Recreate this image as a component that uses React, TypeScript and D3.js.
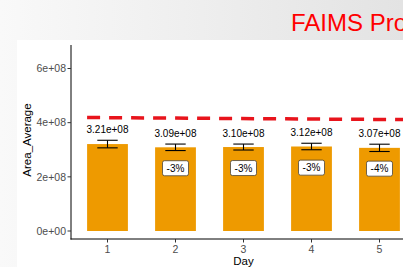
import React, { useEffect, useRef } from 'react';
import * as d3 from 'd3';

// chart data
const days = [1, 2, 3, 4, 5];
const areaAverage = [3.21e8, 3.09e8, 3.10e8, 3.12e8, 3.07e8];
const areaError = [1.4e7, 1.2e7, 1.1e7, 1.2e7, 1.35e7];
const pctChange = [null, '-3%', '-3%', '-3%', '-4%'];
const yTicks = [0, 2e8, 4e8, 6e8];
const yTickLabels = ['0e+00', '2e+08', '4e+08', '6e+08'];
const refLineDays = [0.7, 5.5];
const refLineValues = [4.19e8, 4.11e8];

const W = 403;
const H = 267;

export default function App() {
  const svgRef = useRef<SVGSVGElement>(null);

  useEffect(() => {
    if (!svgRef.current) return;
    const svg = d3.select(svgRef.current);
    svg.selectAll('*').remove();

    const font = '"Liberation Sans", Arial, sans-serif';

    // slide background
    const grad = svg.append('defs').append('linearGradient')
      .attr('id', 'bg').attr('x1', '0%').attr('x2', '100%').attr('y1', '0%').attr('y2', '0%');
    grad.append('stop').attr('offset', '0%').attr('stop-color', '#f9f9f9');
    grad.append('stop').attr('offset', '100%').attr('stop-color', '#e3e3e3');
    svg.append('rect').attr('width', W).attr('height', H).attr('fill', 'url(#bg)');

    svg.append('text')
      .attr('x', 291).attr('y', 31)
      .attr('fill', '#ff0000')
      .style('font', `24px ${font}`)
      .text('FAIMS Pro');

    // plot panel
    svg.append('rect').attr('x', 17).attr('y', 40).attr('width', W - 17).attr('height', H - 40).attr('fill', '#fff');

    const x = d3.scaleLinear().domain([1, 5]).range([107.5, 379.5]);
    const y = d3.scaleLinear().domain([0, 6e8]).range([231, 68.5]);
    const step = x(2) - x(1);
    const barW = step * 0.6;
    const capW = step * 0.3;

    const data = days.map((d, i) => ({ day: d, mean: areaAverage[i], err: areaError[i], pct: pctChange[i] }));

    // bars
    svg.append('g').selectAll('rect')
      .data(data).join('rect')
      .attr('x', d => x(d.day) - barW / 2)
      .attr('y', d => y(d.mean))
      .attr('width', barW)
      .attr('height', d => y(0) - y(d.mean))
      .attr('fill', '#EE9A00');

    // error bars
    const eb = svg.append('g').attr('stroke', '#000').attr('stroke-width', 1.1);
    data.forEach(d => {
      const cx = x(d.day);
      eb.append('line').attr('x1', cx).attr('x2', cx).attr('y1', y(d.mean + d.err)).attr('y2', y(d.mean - d.err));
      eb.append('line').attr('x1', cx - capW / 2).attr('x2', cx + capW / 2).attr('y1', y(d.mean + d.err)).attr('y2', y(d.mean + d.err));
      eb.append('line').attr('x1', cx - capW / 2).attr('x2', cx + capW / 2).attr('y1', y(d.mean - d.err)).attr('y2', y(d.mean - d.err));
    });

    // reference line
    const line = d3.line<number>().x((d, i) => x(refLineDays[i])).y(d => y(d));
    svg.append('path')
      .attr('d', line(refLineValues))
      .attr('fill', 'none')
      .attr('stroke', '#E8141C')
      .attr('stroke-width', 3.5)
      .attr('stroke-dasharray', '13 9');

    // value labels
    svg.append('g').selectAll('text')
      .data(data).join('text')
      .attr('x', d => x(d.day))
      .attr('y', d => y(d.mean + d.err) - 7.5)
      .attr('text-anchor', 'middle')
      .attr('fill', '#000')
      .style('font', `10px ${font}`)
      .text(d => d3.format('.2e')(d.mean).replace(/e\+(\d)$/, 'e+0$1'));

    // percent labels
    const pl = svg.append('g').selectAll('g')
      .data(data.filter(d => d.pct)).join('g')
      .attr('transform', d => `translate(${x(d.day)},${y(d.mean * 0.75)})`);
    pl.append('rect')
      .attr('x', -13).attr('y', -7.5).attr('width', 26).attr('height', 15).attr('rx', 2)
      .attr('fill', '#fff').attr('stroke', '#333').attr('stroke-width', 0.7);
    pl.append('text')
      .attr('text-anchor', 'middle').attr('dy', '0.35em')
      .attr('fill', '#000')
      .style('font', `10px ${font}`)
      .text(d => d.pct as string);

    // axes
    const axisCol = '#000';
    svg.append('line').attr('x1', 71).attr('x2', 71).attr('y1', 45).attr('y2', 239.5).attr('stroke', axisCol).attr('stroke-width', 1);
    svg.append('line').attr('x1', 70.5).attr('x2', 416).attr('y1', 239).attr('y2', 239).attr('stroke', axisCol).attr('stroke-width', 1);

    const yt = svg.append('g').selectAll('g').data(yTicks).join('g')
      .attr('transform', d => `translate(71,${y(d)})`);
    yt.append('line').attr('x1', -3.5).attr('x2', 0).attr('stroke', '#333');
    yt.append('text')
      .attr('x', -5).attr('dy', '0.35em').attr('text-anchor', 'end')
      .attr('fill', '#4D4D4D').style('font', `10.5px ${font}`)
      .text((d, i) => yTickLabels[i]);

    const xt = svg.append('g').selectAll('g').data(days).join('g')
      .attr('transform', d => `translate(${x(d)},239)`);
    xt.append('line').attr('y1', 0).attr('y2', 3.5).attr('stroke', '#333');
    xt.append('text')
      .attr('y', 14).attr('text-anchor', 'middle')
      .attr('fill', '#4D4D4D').style('font', `10.5px ${font}`)
      .text(d => String(d));

    svg.append('text')
      .attr('x', (71 + 416) / 2).attr('y', 265)
      .attr('text-anchor', 'middle').attr('fill', '#000')
      .style('font', `11.5px ${font}`)
      .text('Day');

    svg.append('text')
      .attr('transform', `translate(31,${(45 + 239) / 2 - 2}) rotate(-90)`)
      .attr('text-anchor', 'middle').attr('fill', '#000')
      .style('font', `11.5px ${font}`)
      .text('Area_Average');

    return () => { svg.selectAll('*').remove(); };
  }, []);

  return (
    <svg ref={svgRef} width={W} height={H} style={{ position: 'absolute', left: 0, top: 0, display: 'block' }} />
  );
}
